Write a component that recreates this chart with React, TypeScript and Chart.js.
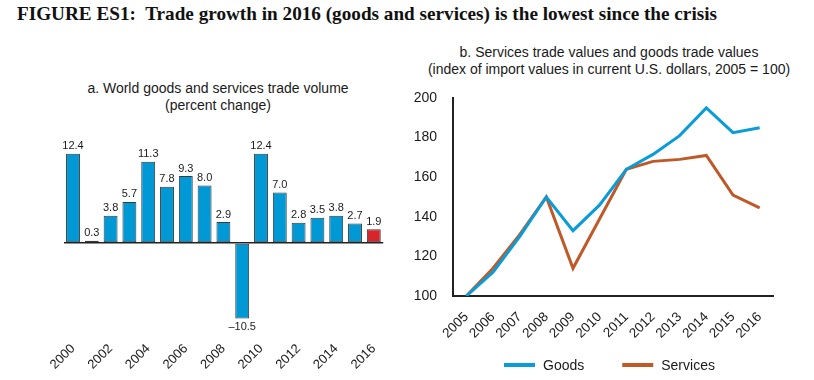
import React, { useEffect, useLayoutEffect, useRef } from "react";
import { Chart, registerables } from "chart.js";

Chart.register(...registerables);

// ---------- data ----------
const volumeYears = ["2000", "2001", "2002", "2003", "2004", "2005", "2006", "2007", "2008", "2009", "2010", "2011", "2012", "2013", "2014", "2015", "2016"];
const volumeChange = [12.4, 0.3, 3.8, 5.7, 11.3, 7.8, 9.3, 8.0, 2.9, -10.5, 12.4, 7.0, 2.8, 3.5, 3.8, 2.7, 1.9];
const volumeTickLabels = ["2000", "2002", "2004", "2006", "2008", "2010", "2012", "2014", "2016"];

const indexYears = ["2005", "2006", "2007", "2008", "2009", "2010", "2011", "2012", "2013", "2014", "2015", "2016"];
const goodsIndex = [100, 112, 130, 150, 133, 146, 164, 171.5, 181, 195, 182.5, 185];
const servicesIndex = [100, 114, 131, 150, 114, 139, 164, 168, 169, 171, 151, 144.5];
const indexTicks = [100, 120, 140, 160, 180, 200];

const TITLE = "FIGURE ES1:  Trade growth in 2016 (goods and services) is the lowest since the crisis";
const SUB_A = ["a. World goods and services trade volume", "(percent change)"];
const SUB_B = ["b. Services trade values and goods trade values", "(index of import values in current U.S. dollars, 2005 = 100)"];

const SANS = "'Liberation Sans', Arial, Helvetica, sans-serif";
const BAR_BLUE = "#0099d6";
const BAR_RED = "#d6262c";
const GOODS_COLOR = "#0a9cd8";
const SERVICES_COLOR = "#bf5a28";
const TEXT = "#1a1a1a";

const barLabelPlugin = {
  id: "barLabels",
  afterDatasetsDraw(chart: any) {
    const ctx = chart.ctx;
    const meta = chart.getDatasetMeta(0);
    const data = chart.data.datasets[0].data as number[];
    ctx.save();
    ctx.font = `11px ${SANS}`;
    ctx.fillStyle = TEXT;
    ctx.textAlign = "center";
    meta.data.forEach((bar: any, i: number) => {
      const v = data[i];
      if (v >= 0) {
        ctx.textBaseline = "bottom";
        ctx.fillText(v.toFixed(1), bar.x, bar.y - 2);
      } else {
        ctx.textBaseline = "top";
        ctx.fillText("\u2013" + Math.abs(v).toFixed(1), bar.x, bar.y + 3);
      }
    });
    ctx.restore();
  },
};

const lineLegendPlugin = {
  id: "lineLegend",
  afterDraw(chart: any, _args: any, opts: any) {
    const ctx = chart.ctx;
    let x = opts.x;
    const y = opts.y;
    ctx.save();
    ctx.font = `14px ${SANS}`;
    ctx.textBaseline = "middle";
    ctx.textAlign = "left";
    chart.data.datasets.forEach((ds: any) => {
      ctx.strokeStyle = ds.borderColor;
      ctx.lineWidth = 4;
      ctx.beginPath();
      ctx.moveTo(x, y);
      ctx.lineTo(x + 31, y);
      ctx.stroke();
      ctx.fillStyle = TEXT;
      ctx.fillText(ds.label, x + 39, y + 1);
      x += 39 + ctx.measureText(ds.label).width + 38;
    });
    ctx.restore();
  },
};

function VolumeChart() {
  const ref = useRef<HTMLCanvasElement>(null);
  useEffect(() => {
    const chart = new Chart(ref.current!, {
      type: "bar",
      data: {
        labels: volumeYears,
        datasets: [
          {
            data: volumeChange,
            backgroundColor: volumeYears.map((_, i) => (i === volumeYears.length - 1 ? BAR_RED : BAR_BLUE)),
            borderColor: "#3a3a3a",
            borderWidth: 1,
            borderSkipped: false,
            barPercentage: 0.74,
            categoryPercentage: 1,
          },
        ],
      },
      options: {
        responsive: false,
        animation: false,
        layout: { padding: { left: 63.6, right: 26.8, top: 22.2, bottom: 0 } },
        plugins: { legend: { display: false }, tooltip: { enabled: false } },
        scales: {
          x: {
            grid: { display: false },
            border: { display: false },
            ticks: {
              autoSkip: false,
              minRotation: 45,
              maxRotation: 45,
              padding: 0,
              color: TEXT,
              font: { family: SANS, size: 13 },
              callback: (_v: any, i: number) => (volumeTickLabels.includes(volumeYears[i]) ? volumeYears[i] : ""),
            },
            afterFit: (s: any) => {
              s.height = 47;
            },
          },
          y: {
            min: -12.5,
            max: 14,
            ticks: { display: false, stepSize: 5 },
            border: { display: false },
            grid: {
              drawTicks: false,
              lineWidth: 1.5,
              color: (c: any) => (c.tick && c.tick.value === 0 ? "#222" : "rgba(0,0,0,0)"),
            },
            afterFit: (s: any) => {
              s.width = 0;
            },
          },
        },
      },
      plugins: [barLabelPlugin],
    });
    return () => chart.destroy();
  }, []);
  return <canvas ref={ref} width={410} height={260} style={{ width: 410, height: 260, display: "block" }} />;
}

function IndexChart() {
  const ref = useRef<HTMLCanvasElement>(null);
  useEffect(() => {
    const chart = new Chart(ref.current!, {
      type: "line",
      data: {
        labels: indexYears,
        datasets: [
          { label: "Goods", data: goodsIndex, borderColor: GOODS_COLOR, backgroundColor: GOODS_COLOR, borderWidth: 3, pointRadius: 0, tension: 0 },
          { label: "Services", data: servicesIndex, borderColor: SERVICES_COLOR, backgroundColor: SERVICES_COLOR, borderWidth: 3, pointRadius: 0, tension: 0 },
        ],
      },
      options: {
        responsive: false,
        animation: false,
        layout: { padding: { left: 0, right: 41, top: 18, bottom: 0 } },
        plugins: {
          legend: { display: false },
          tooltip: { enabled: false },
          lineLegend: { x: 94, y: 285 },
        } as any,
        scales: {
          x: {
            offset: true,
            grid: { display: false },
            border: { display: true, color: "#222", width: 2 },
            ticks: {
              autoSkip: false,
              minRotation: 45,
              maxRotation: 45,
              padding: 5,
              color: TEXT,
              font: { family: SANS, size: 13.5 },
            },
            afterFit: (s: any) => {
              s.height = 84;
            },
          },
          y: {
            min: indexTicks[0],
            max: indexTicks[indexTicks.length - 1],
            grid: { display: false },
            border: { display: true, color: "#222", width: 2 },
            ticks: {
              stepSize: 20,
              padding: 8,
              color: TEXT,
              font: { family: SANS, size: 14 },
            },
            afterFit: (s: any) => {
              s.width = 43;
            },
          },
        },
      },
      plugins: [lineLegendPlugin],
    });
    return () => chart.destroy();
  }, []);
  return <canvas ref={ref} width={404} height={300} style={{ width: 404, height: 300, display: "block" }} />;
}

function FittedTitle() {
  const ref = useRef<HTMLSpanElement>(null);
  useLayoutEffect(() => {
    const el = ref.current!;
    const w = el.getBoundingClientRect().width;
    if (w > 0) el.style.transform = `scaleX(${700 / w})`;
  }, []);
  return (
    <span
      ref={ref}
      style={{
        display: "inline-block",
        whiteSpace: "pre",
        transformOrigin: "left top",
        fontFamily: "'Liberation Serif', 'Times New Roman', serif",
        fontWeight: "bold",
        fontSize: 19,
        color: "#111",
      }}
    >
      {TITLE}
    </span>
  );
}

const subStyle: React.CSSProperties = {
  position: "absolute",
  fontFamily: SANS,
  fontSize: 14,
  color: TEXT,
  textAlign: "center",
  lineHeight: "17px",
  whiteSpace: "nowrap",
};

export default function App() {
  return (
    <div style={{ position: "absolute", left: 0, top: 0, width: 814, height: 380, background: "#fff", overflow: "hidden" }}>
      <div style={{ position: "absolute", left: 17, top: 3 }}>
        <FittedTitle />
      </div>
      <div style={{ ...subStyle, left: 18, width: 400, top: 80 }}>
        {SUB_A[0]}
        <br />
        {SUB_A[1]}
      </div>
      <div style={{ ...subStyle, left: 409, width: 400, top: 44 }}>
        {SUB_B[0]}
        <br />
        {SUB_B[1]}
      </div>
      <div style={{ position: "absolute", left: 0, top: 120 }}>
        <VolumeChart />
      </div>
      <div style={{ position: "absolute", left: 410, top: 80 }}>
        <IndexChart />
      </div>
    </div>
  );
}
